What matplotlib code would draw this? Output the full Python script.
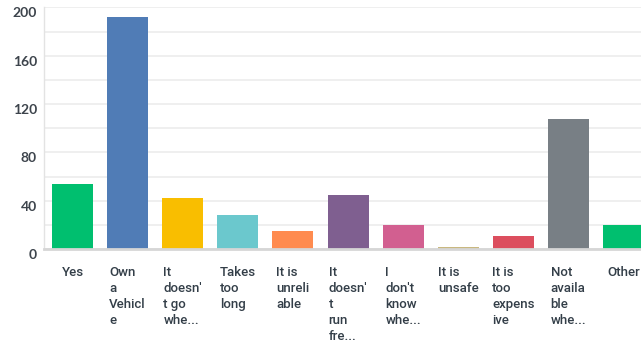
import matplotlib
matplotlib.use('Agg')
import matplotlib.pyplot as plt
import numpy as np
from matplotlib.transforms import ScaledTranslation

categories = ["Yes", "Own\na\nVehicl\ne", "It\ndoesn'\nt go\nwhe...", "Takes\ntoo\nlong",
              "It is\nunreli\nable", "It\ndoesn'\nt\nrun\nfre...", "I\ndon't\nknow\nwhe...",
              "It is\nunsafe", "It is\ntoo\nexpens\nive", "Not\navaila\nble\nwhe...", "Other"]
values = [54, 192, 42, 28, 15, 45, 20, 2, 11, 108, 20]
colors = ['#00bf6f', '#507cb6', '#f9be00', '#6bc8cd', '#ff8b4f', '#7f5f90',
          '#d25f90', '#c9b880', '#dc4e5e', '#787f85', '#00bf6f']
yticks = [0, 40, 80, 120, 160, 200]

text_color = '#333e48'

fig = plt.figure(figsize=(6.41, 3.47), dpi=100)
ax = fig.add_axes([44/641, 98/347, 597/641, 241.6/347])

x = np.arange(len(values))
ax.bar(x, values, width=0.744, color=colors, zorder=3)

ax.set_xlim(-0.517, 10.317)
ax.set_ylim(0, 200)

ax.set_yticks(yticks)
ax.set_yticks(np.arange(20, 200, 40), minor=True)
ax.grid(axis='y', which='both', color='#ececec', linewidth=1.2, zorder=0)
ax.tick_params(axis='both', which='both', length=0)
ax.tick_params(axis='y', pad=5)
ax.set_yticklabels([str(t) for t in yticks], fontsize=10, fontweight='bold',
                   color='#3d444c', family='Lato')
for lab in ax.get_yticklabels():
    lab.set_transform(lab.get_transform() + ScaledTranslation(0, -5/100, fig.dpi_scale_trans))

ax.set_xticks(x)
ax.set_xticklabels(categories, fontsize=9.5, color=text_color, family='Roboto',
                   fontweight='medium', multialignment='left', linespacing=1.3, va='top')
ax.tick_params(axis='x', pad=12)

for s in ['top', 'right']:
    ax.spines[s].set_visible(False)
ax.spines['bottom'].set_color('#d6d6d6')
ax.spines['bottom'].set_linewidth(2)
ax.spines['left'].set_color('#e3e3e3')
ax.spines['left'].set_linewidth(1)
ax.spines['bottom'].set_zorder(4)

fig.savefig('out.png', dpi=100)
